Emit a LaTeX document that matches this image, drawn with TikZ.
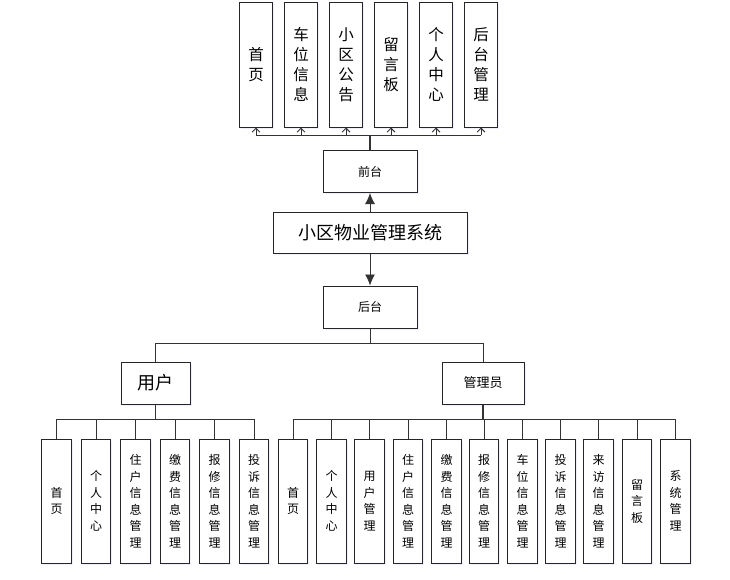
\documentclass[tikz,border=0pt]{standalone}
\usepackage{fontspec}
\setmainfont{Noto Sans CJK SC}
\usetikzlibrary{arrows.meta,shadows}
\begin{document}
\begin{tikzpicture}[x=1pt,y=-1pt,
  box/.style={draw=black!85, line width=1pt, fill=white, inner sep=0pt, align=center,
    drop shadow={opacity=0.25, fill=blue!25, shadow xshift=1.5pt, shadow yshift=-1.5pt}},
  topbox/.style={box, minimum width=33pt, minimum height=125pt, font=\fontsize{15.5}{20}\selectfont},
  midbox/.style={box, minimum width=94pt, minimum height=42pt, font=\fontsize{12}{14}\selectfont},
  sysbox/.style={box, minimum width=194pt, minimum height=41pt, font=\fontsize{18}{20}\selectfont},
  userbox/.style={box, minimum width=69pt, minimum height=42pt, font=\fontsize{18}{20}\selectfont},
  adminbox/.style={box, minimum width=82pt, minimum height=42pt, font=\fontsize{13}{15}\selectfont},
  leafbox/.style={box, minimum width=29.5pt, minimum height=124pt, font=\fontsize{12}{16.5}\selectfont},
  conn/.style={draw=black!80, line width=0.9pt},
  barb/.style={conn, -{Straight Barb[length=4pt,width=8pt]}},
  bigarrow/.style={conn, -{Latex[length=11pt,width=10pt]}}
]
\useasboundingbox (0,0) rectangle (730,579);
% top row
\node[topbox] (t1) at (256,64.5) {首\\页};
\node[topbox] (t2) at (301,64.5) {车\\位\\信\\息};
\node[topbox] (t3) at (346,64.5) {小\\区\\公\\告};
\node[topbox] (t4) at (391,64.5) {留\\言\\板};
\node[topbox] (t5) at (436,64.5) {个\\人\\中\\心};
\node[topbox] (t6) at (481,64.5) {后\\台\\管\\理};
% middle
\node[midbox] (qt) at (370,171.5) {前台};
\node[sysbox] (sys) at (370,232.5) {小区物业管理系统};
\node[midbox] (ht) at (370,307) {后台};
\node[userbox] (user) at (155.5,383) {用户};
\node[adminbox] (admin) at (483,383) {管理员};
% user leaves
\node[leafbox] (u1) at (56.5,501) {首\\页};
\node[leafbox] (u2) at (96,501) {个\\人\\中\\心};
\node[leafbox] (u3) at (135.5,501) {住\\户\\信\\息\\管\\理};
\node[leafbox] (u4) at (175,501) {缴\\费\\信\\息\\管\\理};
\node[leafbox] (u5) at (214.5,501) {报\\修\\信\\息\\管\\理};
\node[leafbox] (u6) at (254,501) {投\\诉\\信\\息\\管\\理};
% admin leaves
\node[leafbox] (a1) at (293,501) {首\\页};
\node[leafbox] (a2) at (331.5,501) {个\\人\\中\\心};
\node[leafbox] (a3) at (369.5,501) {用\\户\\管\\理};
\node[leafbox] (a4) at (408,501) {住\\户\\信\\息\\管\\理};
\node[leafbox] (a5) at (446.5,501) {缴\\费\\信\\息\\管\\理};
\node[leafbox] (a6) at (484,501) {报\\修\\信\\息\\管\\理};
\node[leafbox] (a7) at (522.5,501) {车\\位\\信\\息\\管\\理};
\node[leafbox] (a8) at (560.5,501) {投\\诉\\信\\息\\管\\理};
\node[leafbox] (a9) at (598.5,501) {来\\访\\信\\息\\管\\理};
\node[leafbox] (a10) at (637,501) {留\\言\\板};
\node[leafbox] (a11) at (675.5,501) {系\\统\\管\\理};
% top connectors
\coordinate (tbus) at (370,135);
\draw[conn, line width=1.4pt] (qt.north) -- (tbus);
\draw[conn] (tbus -| t1) -- (tbus -| t6);
\foreach \n in {t1,t2,t3,t4,t5,t6} \draw[barb] (tbus -| \n) -- (\n.south);
% main arrows
\draw[bigarrow] (sys.north) -- (qt.south);
\draw[bigarrow] (sys.south) -- (ht.north);
% split
\coordinate (sbus) at (370,343);
\draw[conn] (ht.south) -- (sbus);
\draw[conn] (sbus -| user) -- (sbus -| admin);
\draw[conn] (sbus -| user) -- (user.north);
\draw[conn] (sbus -| admin) -- (admin.north);
% user bus
\coordinate (ubus) at (155.5,419);
\draw[conn] (user.south) -- (ubus);
\draw[conn] (ubus -| u1) -- (ubus -| u6);
\foreach \n in {u1,u2,u3,u4,u5,u6} \draw[conn] (ubus -| \n) -- (\n.north);
% admin bus
\coordinate (abus) at (483,419);
\draw[conn, line width=1.4pt] (admin.south) -- (abus);
\draw[conn] (abus -| a1) -- (abus -| a11);
\foreach \n in {a1,a2,a3,a4,a5,a6,a7,a8,a9,a10,a11} \draw[conn] (abus -| \n) -- (\n.north);
\end{tikzpicture}
\end{document}
